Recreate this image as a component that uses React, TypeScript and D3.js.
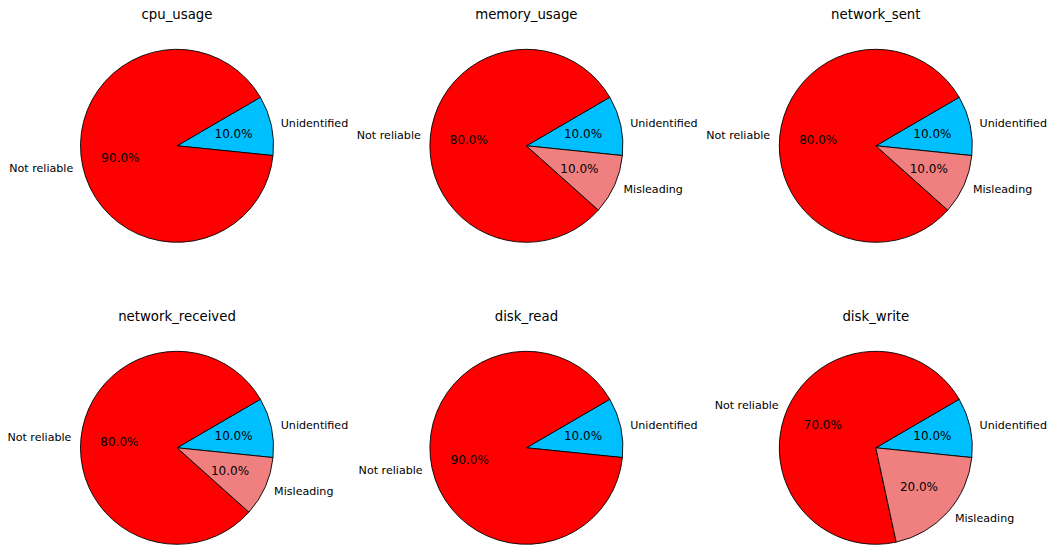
import React, { useEffect, useRef } from 'react';
import * as d3 from 'd3';

// one entry per subplot, values in percent
const titles = ['cpu_usage', 'memory_usage', 'network_sent', 'network_received', 'disk_read', 'disk_write'];
const categories = ['Unidentified', 'Not reliable', 'Misleading'];
const unidentified = [10, 10, 10, 10, 10, 10];
const notReliable = [90, 80, 80, 80, 90, 70];
const misleading = [0, 10, 10, 10, 0, 20];
const colors = ['#00bfff', '#ff0000', '#f08080'];

const width = 1054;
const height = 547;

const App: React.FC = () => {
  const svgRef = useRef<SVGSVGElement>(null);

  useEffect(() => {
    if (!svgRef.current) return;
    const svg = d3.select(svgRef.current);
    svg.selectAll('*').remove();

    const radius = 96.5;
    const colX = d3.scaleLinear().domain([0, 2]).range([177, 875.8]);
    const rowY = d3.scaleLinear().domain([0, 1]).range([145.8, 447.8]);
    // first wedge starts slightly below horizontal, wedges run counterclockwise
    const start = Math.PI / 2 + (5.8 * Math.PI) / 180;

    const pie = d3.pie<{ label: string; value: number; color: string }>()
      .sort(null)
      .value(d => d.value)
      .startAngle(start)
      .endAngle(start - 2 * Math.PI);

    const arc = d3.arc<d3.PieArcDatum<any>>().innerRadius(0).outerRadius(radius);

    titles.forEach((title, i) => {
      const cx = colX(i % 3);
      const cy = rowY(Math.floor(i / 3));
      const vals = [unidentified[i], notReliable[i], misleading[i]];
      const rows = categories
        .map((label, k) => ({ label, value: vals[k], color: colors[k] }))
        .filter(d => d.value > 0);
      const total = d3.sum(rows, d => d.value);

      const g = svg.append('g').attr('transform', `translate(${cx},${cy})`);
      const arcs = pie(rows);

      g.selectAll('path')
        .data(arcs)
        .enter()
        .append('path')
        .attr('d', arc as any)
        .attr('fill', d => d.data.color)
        .attr('stroke', '#000')
        .attr('stroke-width', 0.9)
        .attr('stroke-linejoin', 'round');

      const pos = (d: d3.PieArcDatum<any>, f: number) => {
        const a = (d.startAngle + d.endAngle) / 2;
        return [radius * f * Math.sin(a), -radius * f * Math.cos(a)];
      };

      arcs.forEach(d => {
        const [lx, ly] = pos(d, 1.1);
        g.append('text')
          .attr('x', lx)
          .attr('y', ly)
          .attr('dy', '0.35em')
          .attr('text-anchor', lx > 0 ? 'start' : 'end')
          .attr('font-size', 11.1)
          .text(d.data.label);

        const [px, py] = pos(d, 0.6);
        g.append('text')
          .attr('x', px)
          .attr('y', py)
          .attr('dy', '0.35em')
          .attr('text-anchor', 'middle')
          .attr('font-size', 12)
          .text(((d.data.value / total) * 100).toFixed(1) + '%');
      });

      svg.append('text')
        .attr('x', cx)
        .attr('y', Math.floor(i / 3) === 0 ? 18.5 : 320.5)
        .attr('text-anchor', 'middle')
        .attr('font-size', 13.3)
        .text(title);
    });
  }, []);

  return (
    <svg
      ref={svgRef}
      width={width}
      height={height}
      style={{ position: 'absolute', left: 0, top: 0, background: '#fff', fontFamily: '"DejaVu Sans", sans-serif' }}
    />
  );
};

export default App;
